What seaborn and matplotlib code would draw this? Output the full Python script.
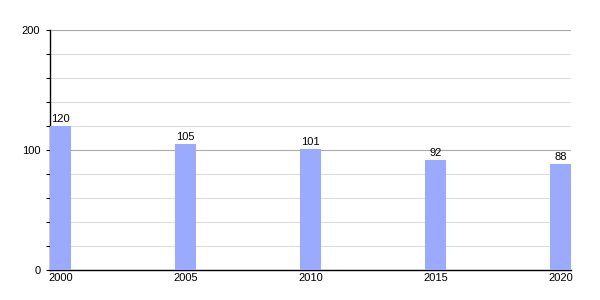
import matplotlib
matplotlib.use("Agg")
import matplotlib.pyplot as plt
import seaborn as sns
import pandas as pd
from matplotlib.ticker import MultipleLocator

years = ["2000", "2005", "2010", "2015", "2020"]
values = [120, 105, 101, 92, 88]

sns.set_theme(style="white")
plt.rcParams["font.family"] = ["Liberation Sans", "DejaVu Sans"]

df = pd.DataFrame({"year": years, "value": values})

fig = plt.figure(figsize=(6, 3), dpi=100)
ax = fig.add_axes([50/600, 0.1, 521/600, 0.8])

sns.barplot(data=df, x="year", y="value", color="#9aabff", saturation=1,
            width=0.168, ax=ax, zorder=3, linewidth=0, edgecolor="none")

ax.set_xlim(-0.084, 4.084)
ax.set_ylim(0, 200)
ax.yaxis.set_major_locator(MultipleLocator(100))
ax.yaxis.set_minor_locator(MultipleLocator(20))
ax.grid(which="major", axis="y", color="#aaaaaa", linewidth=0.8, zorder=0)
ax.grid(which="minor", axis="y", color="#dddddd", linewidth=0.8, zorder=0)
ax.set_axisbelow(True)

ax.tick_params(axis="y", which="both", left=True, length=3, width=0.8,
               color="black", direction="out", labelsize=8, pad=4,
               labelcolor="black")
ax.tick_params(axis="x", bottom=False, length=0, labelsize=8, pad=2,
               labelcolor="black")

for s in ["top", "right"]:
    ax.spines[s].set_visible(False)
for s in ["left", "bottom"]:
    ax.spines[s].set_color("black")
    ax.spines[s].set_linewidth(1)

ax.set_xlabel("")
ax.set_ylabel("")

for c in ax.containers:
    ax.bar_label(c, labels=[str(v) for v in values], fontsize=8, padding=1.5,
                 color="black")

fig.savefig("out.png", dpi=100)
